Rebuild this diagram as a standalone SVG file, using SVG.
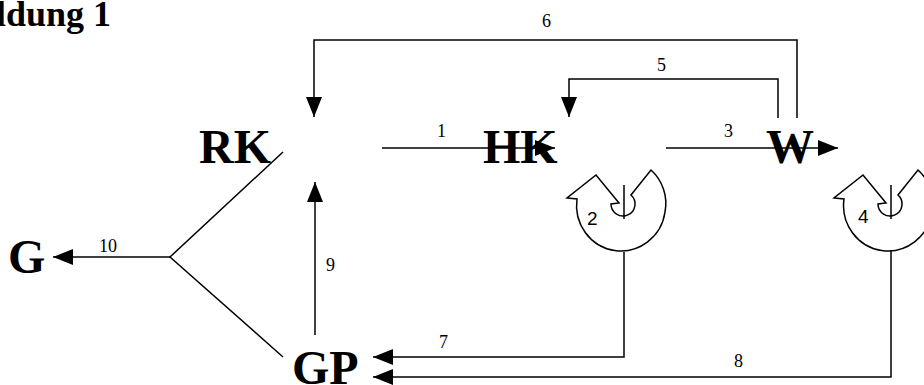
<svg xmlns="http://www.w3.org/2000/svg" width="924" height="385" viewBox="0 0 924 385">
<style>
.big{font-family:"Liberation Serif","Times New Roman",serif;font-weight:bold;font-size:48px;fill:#000}
.ttl{font-family:"Liberation Serif","Times New Roman",serif;font-weight:bold;font-size:36px;fill:#000}
.lbl{font-family:"Liberation Serif","Times New Roman",serif;font-size:18px;fill:#000}
.sl{font-family:"Liberation Sans",Arial,sans-serif;font-size:19px;fill:#000}
.ln{fill:none;stroke:#000;stroke-width:1.5}
.arr{marker-end:url(#ah)}
.ca{fill:#fff;stroke:#000;stroke-width:1.5;stroke-linejoin:miter}
</style>
<defs>
<marker id="ah" markerUnits="userSpaceOnUse" markerWidth="20" markerHeight="16" refX="20" refY="8" orient="auto" viewBox="0 0 20 16">
<path d="M0,0 L20,8 L0,16 Z" fill="#000"/>
</marker>
<path id="circ" d="M651,170 A45 45 0 0 1 665,212 A44 45 0 0 1 577,199 L567,198 L596,175 L619,203 L611,204 A12 12 0 1 0 631,195 Z"/>
</defs>
<rect width="924" height="385" fill="#fff"/>
<text class="ttl" x="111" y="26" text-anchor="end">ldung 1</text>

<g id="cycle-HK">
<use href="#circ" class="ca"/>
<line class="ln" x1="624" y1="185" x2="624" y2="219"/>
<text class="sl" x="587" y="225">2</text>
</g>
<g id="cycle-W">
<use href="#circ" class="ca" transform="translate(267,0)"/>
<line class="ln" x1="891" y1="185" x2="891" y2="219"/>
<text class="sl" x="858" y="223">4</text>
</g>

<g id="connectors">
<polyline class="ln arr" points="797,118 797,40 314,40 314,117"/>
<polyline class="ln arr" points="778,118 778,79 569,79 569,117"/>
<line class="ln arr" x1="382" y1="148" x2="555" y2="148"/>
<line class="ln arr" x1="666" y1="148" x2="838" y2="148"/>
<line class="ln arr" x1="315" y1="335" x2="315" y2="182"/>
<polyline class="ln" points="283,152 170,257 283,357"/>
<line class="ln arr" x1="170" y1="257" x2="53" y2="257"/>
<polyline class="ln arr" points="624,252 624,357 373,357"/>
<polyline class="ln arr" points="891,250 891,377 373,377"/>
<text class="lbl" x="542" y="27">6</text>
<text class="lbl" x="657" y="71">5</text>
<text class="lbl" x="437" y="137">1</text>
<text class="lbl" x="724" y="137">3</text>
<text class="lbl" x="326" y="271">9</text>
<text class="lbl" x="99" y="252">10</text>
<text class="lbl" x="439" y="348">7</text>
<text class="lbl" x="734" y="367">8</text>
</g>

<g id="node-RK"><text class="big" x="199" y="163">RK</text></g>
<g id="node-HK"><text class="big" x="483" y="163">HK</text></g>
<g id="node-W"><text class="big" x="766" y="163">W</text></g>
<g id="node-G"><text class="big" x="8" y="273">G</text></g>
<g id="node-GP"><text class="big" x="292" y="384">GP</text></g>
</svg>
